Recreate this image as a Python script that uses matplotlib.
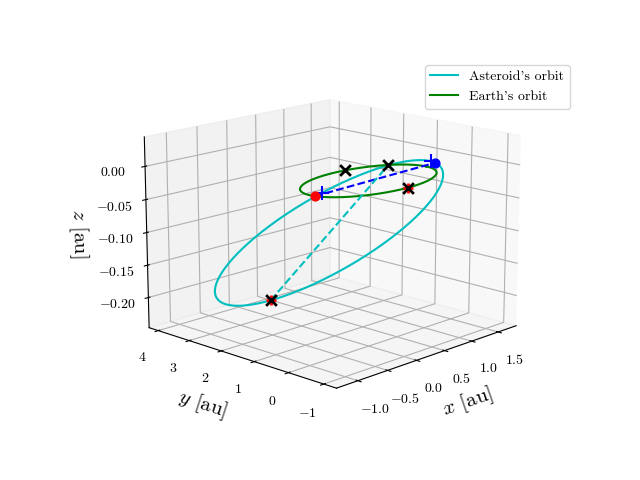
import numpy as np
import matplotlib
matplotlib.use("Agg")
import matplotlib.pyplot as plt

plt.rcParams["font.family"] = "serif"
plt.rcParams["font.serif"] = ["cmr10"]
plt.rcParams["mathtext.fontset"] = "cm"
plt.rcParams["axes.formatter.use_mathtext"] = True

# ── Orbit data ─────────────────────────────────────────────────────────
EARTH_R = 1.0
AST_PERI = [0.9, -0.5, 0.01]    # perihelion point [au]
AST_APH = [-0.78, 3.05, -0.205]  # aphelion point [au]
AST_MINOR = [0.8, 0.31, -0.058]  # minor semi-axis vector [au]

# marker positions (angles on Earth orbit [deg], anomaly on asteroid orbit [deg])
EARTH_RED_DOT = 188.0
EARTH_BLACK_X = [80.0, 42.0]
EARTH_RED_X = 272.0
AST_BLUE_DOT = 355.0
AST_BLUE_PLUS = [350.0, 285.0]
AST_RED_X = 140.0

XLIM = (-1.35, 1.85)
YLIM = (-1.35, 4.3)
ZLIM = (-0.247, 0.044)


def earth(theta):
    t = np.radians(theta)
    return np.array([EARTH_R * np.cos(t), EARTH_R * np.sin(t), 0.0 * t])


def asteroid(E):
    E = np.radians(np.atleast_1d(E))
    p, a, v = np.array(AST_PERI), np.array(AST_APH), np.array(AST_MINOR)
    c = (p + a) / 2
    u = (p - a) / 2
    return c[:, None] + np.outer(u, np.cos(E)) + np.outer(v, np.sin(E))


fig = plt.figure(figsize=(6.4, 4.8), dpi=100)
fig.subplots_adjust(bottom=0.125, top=0.885)
ax = fig.add_subplot(projection="3d")

th = np.linspace(0, 360, 400)
ax.plot(*asteroid(th), color="c", label="Asteroid's orbit")
ax.plot(*earth(th), color="g", label="Earth's orbit")

p_red = earth(EARTH_RED_DOT)
p_blue = asteroid(AST_BLUE_DOT)[:, 0]
ax.plot(*[[p_red[i], p_blue[i]] for i in range(3)], "b--")
p_rx = asteroid(AST_RED_X)[:, 0]
p_bx = earth(EARTH_BLACK_X[1])
ax.plot(*[[p_rx[i], p_bx[i]] for i in range(3)], "c--")

ax.scatter(*p_red, color="r", s=40, depthshade=False)
ax.scatter(*p_blue, color="b", s=40, depthshade=False)
for E in AST_BLUE_PLUS:
    ax.scatter(*asteroid(E), color="b", marker="+", s=100, linewidths=1.5, depthshade=False)
for t in EARTH_BLACK_X:
    ax.scatter(*earth(t), color="k", marker="x", s=60, linewidths=2, depthshade=False)
for p in (earth(EARTH_RED_X), p_rx):
    ax.scatter(*p, color="r", marker="+", s=60, linewidths=2, depthshade=False)
    ax.scatter(*p, color="k", marker="x", s=60, linewidths=2, depthshade=False)

ax.set_xlim(*XLIM)
ax.set_ylim(*YLIM)
ax.set_zlim(*ZLIM)
ax.set_xticks([-1.0, -0.5, 0.0, 0.5, 1.0, 1.5])
ax.set_yticks([-1, 0, 1, 2, 3, 4])
ax.set_zticks([-0.20, -0.15, -0.10, -0.05, 0.00])
ax.set_xlabel("$x$ [au]", fontsize=15)
ax.set_ylabel("$y$ [au]", fontsize=15)
ax.set_zlabel("$z$ [au]", fontsize=15)
ax.view_init(elev=15, azim=-136)
ax.set_box_aspect(None, zoom=1.12)
fig.legend(loc="upper right", bbox_to_anchor=(0.901, 0.879))

fig.savefig("out.png")
